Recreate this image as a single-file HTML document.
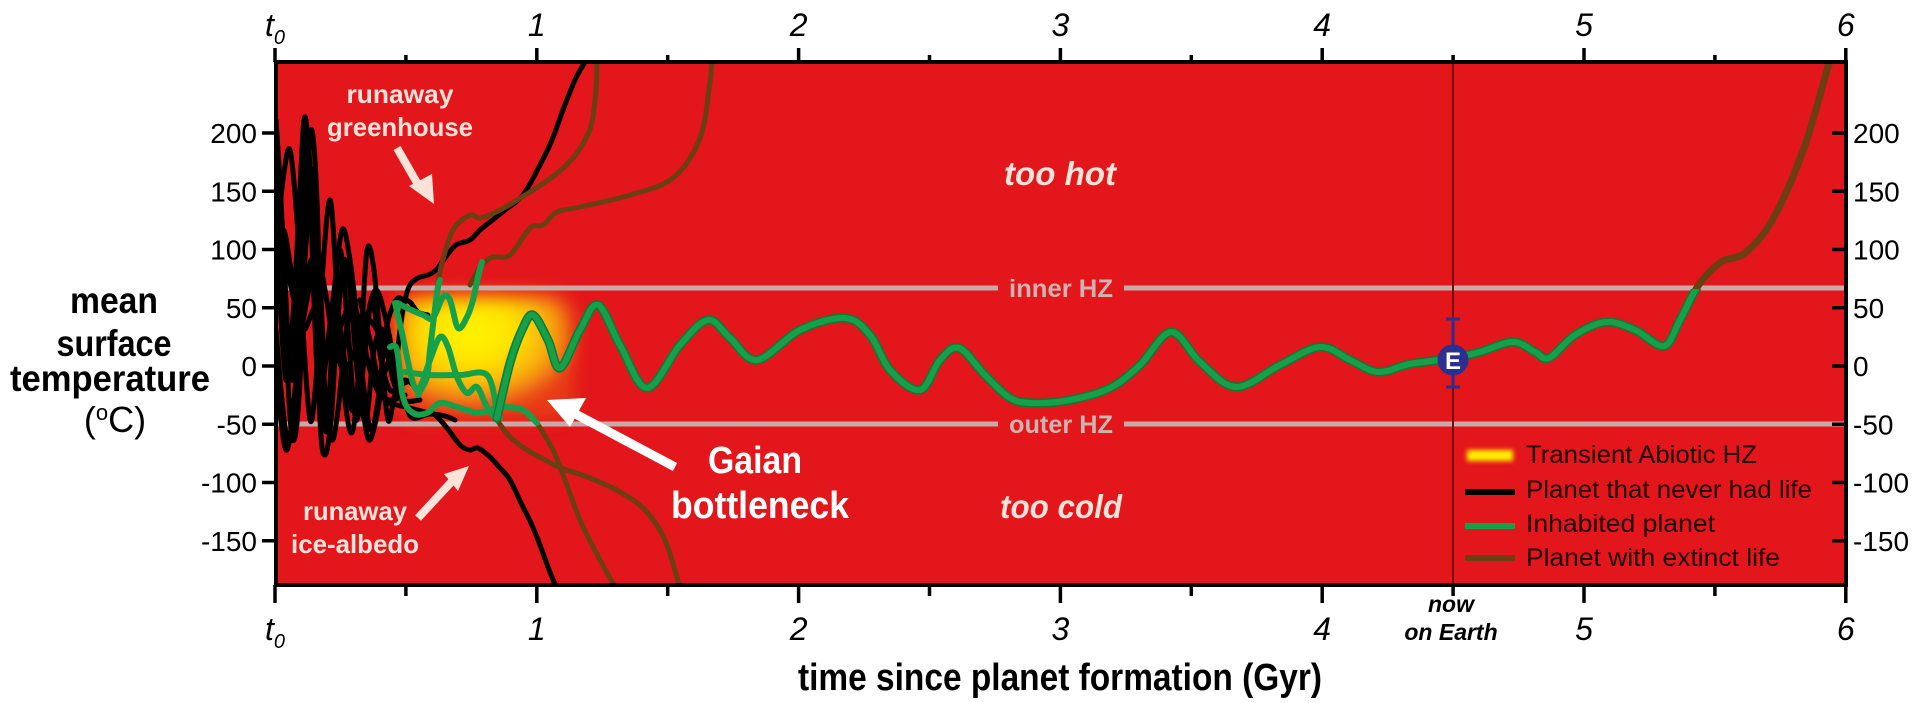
<!DOCTYPE html>
<html><head><meta charset="utf-8"><style>
html,body{margin:0;padding:0;background:#fff;}
svg{display:block;}
text{font-family:"Liberation Sans",sans-serif;}
</style></head><body>
<svg id="s" width="1920" height="703" viewBox="0 0 1920 703" xmlns="http://www.w3.org/2000/svg">
<defs>
<radialGradient id="rg" cx="0.42" cy="0.3" r="0.6">
<stop offset="0" stop-color="#fff600"/><stop offset="0.45" stop-color="#ffe000"/><stop offset="0.8" stop-color="#f7a010"/><stop offset="1" stop-color="#e83a18"/>
</radialGradient>
<filter id="bl" x="-30%" y="-30%" width="160%" height="160%"><feGaussianBlur stdDeviation="9"/></filter>
<filter id="bl2" x="-30%" y="-80%" width="160%" height="260%"><feGaussianBlur stdDeviation="2.5"/></filter>
<clipPath id="plot"><rect x="276" y="62" width="1570" height="523"/></clipPath>
<clipPath id="below"><rect x="276" y="289" width="1570" height="300"/></clipPath>
</defs>
<rect x="276" y="62" width="1570" height="523" fill="#e2161b"/>
<rect x="398" y="296" width="176" height="124" rx="20" fill="url(#rg)" filter="url(#bl)"/>
<line x1="276" y1="288" x2="998" y2="288" stroke="#c8aaa8" stroke-width="5"/>
<line x1="1124" y1="288" x2="1846" y2="288" stroke="#c8aaa8" stroke-width="5"/>
<line x1="276" y1="424" x2="998" y2="424" stroke="#c8aaa8" stroke-width="5"/>
<line x1="1124" y1="424" x2="1846" y2="424" stroke="#c8aaa8" stroke-width="5"/>
<text x="1061" y="297" font-size="25" font-weight="bold" fill="#cfb3b0" text-anchor="middle" textLength="104" lengthAdjust="spacingAndGlyphs">inner HZ</text>
<text x="1061" y="433" font-size="25" font-weight="bold" fill="#cfb3b0" text-anchor="middle" textLength="104" lengthAdjust="spacingAndGlyphs">outer HZ</text>
<line x1="1453" y1="62" x2="1453" y2="585" stroke="#7a0a0a" stroke-width="2"/>
<g id="series" clip-path="url(#plot)" fill="none" stroke-linecap="round" stroke-linejoin="round"></g>
<line x1="1453" y1="319" x2="1453" y2="387" stroke="#2b2f8f" stroke-width="3"/>
<line x1="1446" y1="319" x2="1460" y2="319" stroke="#2b2f8f" stroke-width="3"/>
<line x1="1446" y1="387" x2="1460" y2="387" stroke="#2b2f8f" stroke-width="3"/>
<circle cx="1453" cy="360" r="15.5" fill="#2b2f8f"/>
<text x="1453" y="369" font-size="24" font-weight="bold" fill="#fff" text-anchor="middle">E</text>
<text x="400" y="103" font-size="26" font-weight="bold" fill="#fbe3da" text-anchor="middle" textLength="107" lengthAdjust="spacingAndGlyphs">runaway</text>
<text x="400" y="136" font-size="26" font-weight="bold" fill="#fbe3da" text-anchor="middle" textLength="146" lengthAdjust="spacingAndGlyphs">greenhouse</text>
<line x1="397" y1="148" x2="420" y2="188" stroke="#fbe3da" stroke-width="8"/>
<polygon points="409,186 434,204 432,174" fill="#fbe3da"/>
<text x="355" y="520" font-size="26" font-weight="bold" fill="#fbe3da" text-anchor="middle" textLength="104" lengthAdjust="spacingAndGlyphs">runaway</text>
<text x="355" y="553" font-size="26" font-weight="bold" fill="#fbe3da" text-anchor="middle" textLength="128" lengthAdjust="spacingAndGlyphs">ice-albedo</text>
<line x1="418" y1="518" x2="455" y2="478" stroke="#fbe3da" stroke-width="8"/>
<polygon points="444,474 469,466 458,491" fill="#fbe3da"/>
<line x1="675" y1="467" x2="568" y2="410" stroke="#fff" stroke-width="9"/>
<polygon points="547,400 586,398 570,427" fill="#fff"/>
<text x="755" y="473" font-size="38" font-weight="bold" fill="#fff" text-anchor="middle" textLength="94" lengthAdjust="spacingAndGlyphs">Gaian</text>
<text x="760" y="518" font-size="38" font-weight="bold" fill="#fff" text-anchor="middle" textLength="178" lengthAdjust="spacingAndGlyphs">bottleneck</text>
<text x="1060" y="185" font-size="33" font-weight="bold" font-style="italic" fill="#fbe3da" text-anchor="middle" textLength="112" lengthAdjust="spacingAndGlyphs">too hot</text>
<text x="1061" y="518" font-size="33" font-weight="bold" font-style="italic" fill="#fbe3da" text-anchor="middle" textLength="122" lengthAdjust="spacingAndGlyphs">too cold</text>
<rect x="1467" y="450" width="46" height="11" fill="#ffee00" filter="url(#bl2)"/>
<rect x="1465" y="489" width="50" height="6" fill="#000"/>
<rect x="1465" y="523" width="50" height="6" fill="#16a04a"/>
<rect x="1465" y="555" width="50" height="6" fill="#6b3f12"/>
<g font-size="25" fill="#1e0202">
<text x="1526" y="463" textLength="231" lengthAdjust="spacingAndGlyphs">Transient Abiotic HZ</text>
<text x="1526" y="498" textLength="286" lengthAdjust="spacingAndGlyphs">Planet that never had life</text>
<text x="1526" y="532" textLength="189" lengthAdjust="spacingAndGlyphs">Inhabited planet</text>
<text x="1526" y="566" textLength="254" lengthAdjust="spacingAndGlyphs">Planet with extinct life</text>
</g>
<rect x="276" y="62" width="1570" height="523" fill="none" stroke="#000" stroke-width="4"/>
<g id="axes" stroke="#000" stroke-width="3.5"></g>
<g id="labels" fill="#000"></g>
<g font-size="37" font-weight="bold" fill="#000" text-anchor="middle">
<text x="114" y="313" textLength="88" lengthAdjust="spacingAndGlyphs">mean</text>
<text x="114" y="356" textLength="115" lengthAdjust="spacingAndGlyphs">surface</text>
<text x="110" y="391" textLength="200" lengthAdjust="spacingAndGlyphs">temperature</text>
</g>
<text x="115" y="432" font-size="36" fill="#000" text-anchor="middle">(<tspan font-size="22" dy="-12">o</tspan><tspan dy="12">C)</tspan></text>
<text x="1060" y="690" font-size="38" font-weight="bold" fill="#000" text-anchor="middle" textLength="524" lengthAdjust="spacingAndGlyphs">time since planet formation (Gyr)</text>
<text x="1451" y="612" font-size="23" font-style="italic" font-weight="bold" fill="#000" text-anchor="middle">now</text>
<text x="1451" y="640" font-size="23" font-style="italic" font-weight="bold" fill="#000" text-anchor="middle">on Earth</text>
</svg>
<script>
var NS="http://www.w3.org/2000/svg";
function cr(p){var d="M"+p[0][0]+","+p[0][1];for(var i=0;i<p.length-1;i++){var p0=p[i-1]||p[i],p1=p[i],p2=p[i+1],p3=p[i+2]||p2;var c1=[p1[0]+(p2[0]-p0[0])/6,p1[1]+(p2[1]-p0[1])/6],c2=[p2[0]-(p3[0]-p1[0])/6,p2[1]-(p3[1]-p1[1])/6];d+=" C"+c1[0].toFixed(1)+","+c1[1].toFixed(1)+" "+c2[0].toFixed(1)+","+c2[1].toFixed(1)+" "+p2[0]+","+p2[1];}return d;}
var g=document.getElementById("series");
function add(p,col,w,clip){var e=document.createElementNS(NS,"path");e.setAttribute("d",cr(p));e.setAttribute("stroke",col);e.setAttribute("stroke-width",w);if(clip)e.setAttribute("clip-path",clip);g.appendChild(e);}
var BR="#6b3f12",GR="#16a04a",BK="#000";
var blacks=[
[[276,170],[282,240],[289,400],[294,440],[300,380],[305,230],[311,130],[317,200],[322,380],[327,430],[333,330],[340,250],[348,330],[356,420],[364,360],[372,300],[381,360],[390,390],[400,385],[412,380]],
[[276,120],[281,200],[287,320],[292,380],[298,300],[303,170],[308,140],[314,250],[320,420],[325,455],[331,420],[337,330],[344,260],[351,300],[358,380],[366,420],[374,350],[383,330],[393,380],[404,400],[420,400]],
[[276,250],[283,180],[290,150],[297,220],[303,330],[310,420],[316,380],[322,280],[330,200],[337,290],[345,400],[353,430],[361,340],[367,250],[374,270],[381,350],[388,420],[395,395],[405,380],[418,390]],
[[276,330],[282,400],[288,440],[295,400],[301,320],[307,230],[313,170],[319,260],[325,360],[333,300],[342,230],[350,260],[357,320],[364,390],[371,430],[378,400],[386,330],[396,300],[404,300],[410,302],[418,312],[428,315]],
[[276,200],[280,300],[286,380],[292,330],[298,230],[304,120],[309,160],[314,300],[319,400],[326,360],[334,300],[343,350],[352,410],[360,380],[367,320],[376,290],[386,320],[396,370],[406,405],[413,418],[430,414],[445,416],[455,420]],
[[276,280],[283,230],[291,270],[299,330],[307,300],[316,250],[325,290],[334,340],[343,320],[352,300],[361,330],[370,370],[380,395],[392,400],[405,395]],
[[276,360],[281,420],[286,450],[291,430],[297,370],[305,300],[312,260],[319,320],[326,400],[332,440],[338,410],[344,350],[350,310],[356,350],[363,410],[369,440],[376,420],[383,380],[390,360],[397,380],[403,405]],
[[276,230],[285,260],[294,300],[303,330],[313,310],[323,290],[333,330],[343,370],[355,350],[365,320],[377,330],[389,360],[400,370]],
[[395,380],[400,330],[405,300],[410,285],[418,278],[428,275],[436,270],[445,258],[456,245],[470,240],[480,230],[490,222],[505,210],[523,195],[540,165],[552,140],[563,110],[575,80],[585,62]],
[[360,300],[370,340],[378,380],[385,400],[397,405],[410,408],[425,412],[435,415],[447,428],[460,445],[470,450],[478,448],[490,457],[500,468],[510,480],[522,505],[531,523],[540,545],[548,567],[556,587]]
];
blacks.forEach(function(p){add(p,BK,5);});
add([[437,290],[442,263],[453,230],[470,215],[480,218],[500,210],[530,192],[555,175],[573,158],[585,140],[592,122],[596,90],[597,62]],BR,5);
add([[470,285],[478,270],[485,262],[493,257],[510,255],[530,228],[543,225],[557,212],[580,207],[630,195],[673,178],[700,138],[710,82],[712,60]],BR,5);
add([[497,420],[510,437],[527,450],[545,460],[561,468],[590,478],[620,492],[645,510],[665,540],[680,588]],BR,5);
add([[537,423],[553,450],[565,480],[580,520],[600,560],[617,590]],BR,5);
add([[390,347],[397,350],[403,397],[413,413],[427,413],[440,403],[457,407],[477,413],[490,410],[503,407],[523,410],[537,423]],GR,6);
add([[395,303],[402,333],[413,383],[420,387],[430,360],[440,337],[448,347],[457,377],[467,393],[477,387],[487,407],[497,420]],GR,6);
add([[397,303],[407,308],[423,315],[433,318],[443,297],[450,300],[458,328],[467,317],[473,300],[478,277],[482,262]],GR,6);
add([[405,372],[430,375],[460,375],[487,375],[497,410],[500,418]],GR,6);
add([[418,395],[427,377],[430,350],[437,293],[440,280]],GR,6);
var M=[[497,418],[510,363],[522,330],[533,315],[548,340],[560,368],[580,330],[598,305],[620,345],[647,388],[680,345],[708,320],[730,338],[757,360],[800,330],[845,318],[870,335],[890,370],[920,390],[940,360],[959,348],[985,375],[1010,398],[1033,403],[1070,400],[1110,388],[1140,365],[1171,332],[1200,362],[1236,387],[1280,365],[1320,347],[1350,360],[1378,372],[1410,364],[1453,358],[1480,352],[1513,342],[1535,352],[1549,358],[1575,335],[1606,322],[1635,330],[1664,346],[1680,320],[1698,286],[1721,262],[1745,253],[1773,219],[1804,148],[1828,67],[1832,58]];
add(M,BR,7);
add(M,"#0d7a35",9,"url(#below)");
add(M,GR,6,"url(#below)");
var ax=document.getElementById("axes"),lb=document.getElementById("labels");
function ln(x1,y1,x2,y2){var e=document.createElementNS(NS,"line");e.setAttribute("x1",x1);e.setAttribute("y1",y1);e.setAttribute("x2",x2);e.setAttribute("y2",y2);ax.appendChild(e);}
function tx(x,y,s,a,it,fs){var e=document.createElementNS(NS,"text");e.setAttribute("x",x);e.setAttribute("y",y);e.setAttribute("font-size",fs||28);e.setAttribute("text-anchor",a);if(it)e.setAttribute("font-style","italic");e.textContent=s;lb.appendChild(e);return e;}
function X(t){return 275+261.8*t;}
for(var i=0;i<=12;i++){var t=i/2,x=X(t),big=(i%2==0);ln(x,62,x,big?48:55);ln(x,585,x,big?603:596);
 if(big){var s=i==0?"t":String(t);var e1=tx(x,36,s,"middle",true,32);var e2=tx(x,640,s,"middle",true,32);
  if(i==0){[e1,e2].forEach(function(e){var ts=document.createElementNS(NS,"tspan");ts.setAttribute("font-size","20");ts.setAttribute("dy","8");ts.textContent="0";e.appendChild(ts);});}}}
[200,150,100,50,0,-50,-100,-150].forEach(function(v){var y=366-1.165*v;ln(262,y,276,y);ln(1832,y,1846,y);tx(257,y+10,String(v),"end",false,28);tx(1853,y+10,String(v),"start",false,28);});
</script>
</body></html>
